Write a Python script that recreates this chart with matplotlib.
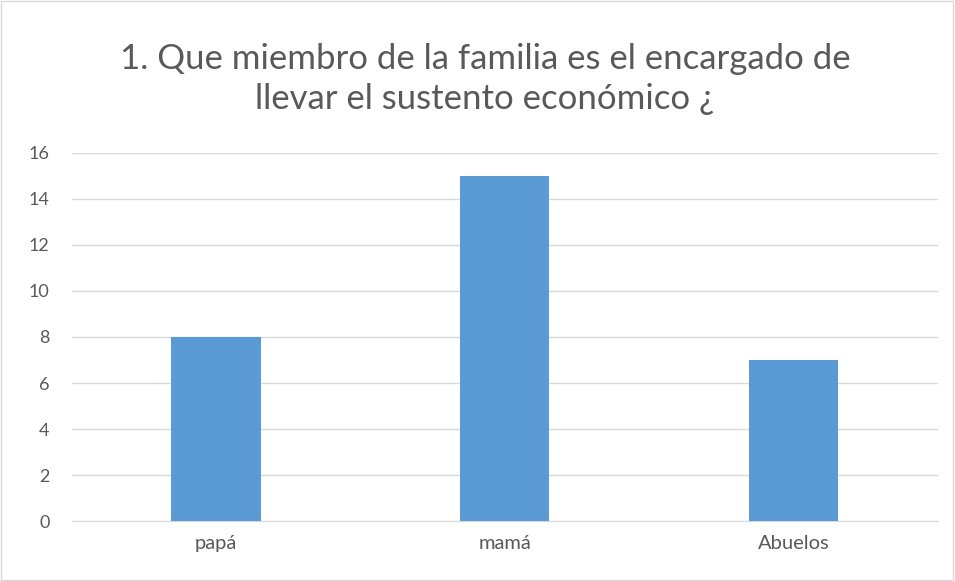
import matplotlib.pyplot as plt
from matplotlib.patches import Rectangle

categories = ["papá", "mamá", "Abuelos"]
values = [8, 15, 7]
yticks = [0, 2, 4, 6, 8, 10, 12, 14, 16]
title = "1. Que miembro de la familia es el encargado de\nllevar el sustento económico ¿"

plt.rcParams['font.family'] = ['Lato', 'DejaVu Sans']
gray = "#595959"

fig = plt.figure(figsize=(9.55, 5.81), dpi=100)
ax = fig.add_axes([0.075, 0.103, 0.907, 0.634])

x = range(len(categories))
ax.bar(x, values, width=0.31, color="#5B9BD5", zorder=3)

ax.set_xlim(-0.5, len(categories) - 0.5)
ax.set_ylim(0, 16)
ax.set_yticks(yticks)
ax.set_xticks(list(x))
ax.set_xticklabels(categories)
ax.grid(axis="y", color="#D9D9D9", linewidth=1, zorder=0)
for s in ["top", "right", "left"]:
    ax.spines[s].set_visible(False)
ax.spines["bottom"].set_color("#D9D9D9")
ax.tick_params(axis="both", length=0, colors=gray, labelsize=13)
ax.tick_params(axis="x", pad=10, labelsize=14.5)
ax.tick_params(axis="y", pad=16)

fig.text(0.508, 0.864, title, ha="center", va="center", fontsize=25,
         color=gray, linespacing=1.3)

# light border around the chart
fig.patches.append(Rectangle((0.001, 0.001), 0.997, 0.997, transform=fig.transFigure,
                             fill=False, edgecolor="#D9D9D9", linewidth=1))

fig.savefig("out.png", dpi=100)
